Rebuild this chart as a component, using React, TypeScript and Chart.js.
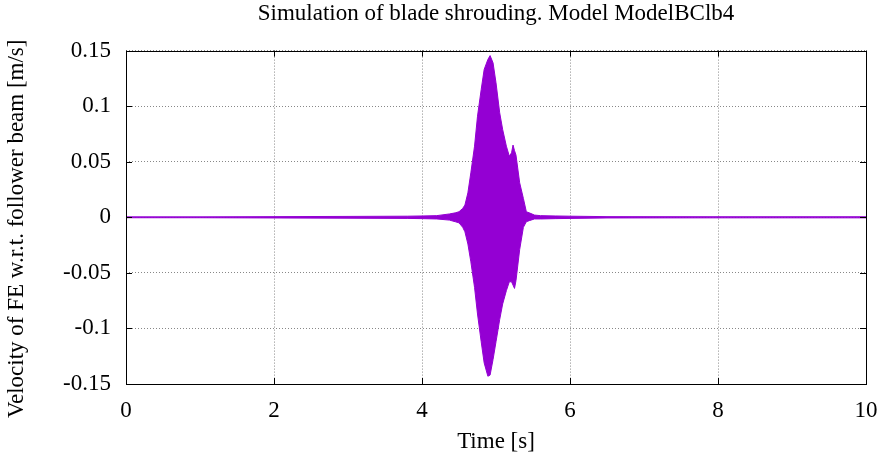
import React, { useEffect, useRef } from "react";
import { Chart, registerables } from "chart.js";

Chart.register(...registerables);

const chartTitle = "Simulation of blade shrouding. Model ModelBClb4";
const xTitle = "Time [s]";
const yTitle = "Velocity of FE w.r.t. follower beam [m/s]\u00A0\u00A0\u00A0\u00A0";

const xTickValues = [0, 2, 4, 6, 8, 10];
const xTickLabels = ["0", "2", "4", "6", "8", "10"];
const yTickValues = [-0.15, -0.1, -0.05, 0, 0.05, 0.1, 0.15];
const yTickLabels = ["-0.15", "-0.1", "-0.05", "0", "0.05", "0.1", "0.15"];

// time samples of the oscillation envelope [s]
const times = [
  0, 1.0, 2.0, 3.0, 3.8, 4.0, 4.2, 4.37, 4.45, 4.5, 4.55, 4.58, 4.62, 4.66,
  4.71, 4.75, 4.8, 4.84, 4.89, 4.92, 4.96, 5.0, 5.05, 5.09, 5.14, 5.18, 5.21,
  5.23, 5.25, 5.27, 5.32, 5.37, 5.41, 5.45, 5.52, 5.6, 5.8, 6.0, 6.5, 8, 10,
];
// upper envelope of velocity [m/s]
const upperEnvelope = [
  0.0004, 0.0004, 0.0006, 0.0008, 0.001, 0.0012, 0.0015, 0.003, 0.004, 0.005,
  0.008, 0.011, 0.022, 0.04, 0.064, 0.091, 0.115, 0.133, 0.142, 0.1455, 0.139,
  0.121, 0.094, 0.079, 0.064, 0.055, 0.058, 0.065, 0.06, 0.056, 0.031, 0.017,
  0.005, 0.004, 0.002, 0.0015, 0.0012, 0.001, 0.0006, 0.0005, 0.0005,
];
// lower envelope of velocity [m/s]
const lowerEnvelope = [
  -0.0004, -0.0004, -0.0006, -0.0008, -0.001, -0.0012, -0.0015, -0.0025,
  -0.004, -0.005, -0.009, -0.013, -0.024, -0.04, -0.063, -0.087, -0.112,
  -0.131, -0.143, -0.142, -0.128, -0.112, -0.092, -0.078, -0.066, -0.058,
  -0.058, -0.061, -0.064, -0.057, -0.029, -0.009, -0.004, -0.003, -0.0015,
  -0.0015, -0.0012, -0.001, -0.0006, -0.0005, -0.0005,
];

const FONT = "'Liberation Serif', 'Times New Roman', serif";
const SIZE = 23;
const COLOR = "#9400D3";

const framePlugin = {
  id: "frameTicks",
  afterDatasetsDraw(chart: any) {
    const { ctx, chartArea } = chart;
    const { left, right, top, bottom } = chartArea;
    const xs = chart.scales.x;
    const ys = chart.scales.y;
    ctx.save();
    ctx.strokeStyle = "#000";
    ctx.lineWidth = 1;
    ctx.beginPath();
    const len = 6;
    xTickValues.forEach((v) => {
      const px = Math.round(xs.getPixelForValue(v)) + 0.5;
      ctx.moveTo(px, bottom);
      ctx.lineTo(px, bottom - len);
      ctx.moveTo(px, top);
      ctx.lineTo(px, top + len);
    });
    yTickValues.forEach((v) => {
      const py = Math.round(ys.getPixelForValue(v)) + 0.5;
      ctx.moveTo(left, py);
      ctx.lineTo(left + len, py);
      ctx.moveTo(right, py);
      ctx.lineTo(right - len, py);
    });
    ctx.stroke();
    ctx.strokeRect(
      Math.round(left) + 0.5,
      Math.round(top) + 0.5,
      Math.round(right - left),
      Math.round(bottom - top)
    );
    ctx.restore();
  },
};

export default function App() {
  const ref = useRef<HTMLCanvasElement | null>(null);

  useEffect(() => {
    document.body.style.margin = "0";
    const canvas = ref.current;
    if (!canvas) return;
    const upper = times.map((t, i) => ({ x: t, y: upperEnvelope[i] }));
    const lower = times.map((t, i) => ({ x: t, y: lowerEnvelope[i] }));
    const chart = new Chart(canvas, {
      type: "line",
      data: {
        datasets: [
          {
            data: upper,
            borderColor: COLOR,
            backgroundColor: COLOR,
            borderWidth: 1,
            pointRadius: 0,
            fill: "+1",
            tension: 0,
          },
          {
            data: lower,
            borderColor: COLOR,
            backgroundColor: COLOR,
            borderWidth: 1,
            pointRadius: 0,
            fill: false,
            tension: 0,
          },
        ],
      },
      options: {
        animation: false,
        responsive: false,
        devicePixelRatio: 1,
        color: "#000",
        layout: { padding: { left: 0, right: 17, top: 0, bottom: 0 } },
        plugins: {
          legend: { display: false },
          tooltip: { enabled: false },
          title: {
            display: true,
            text: chartTitle,
            fullSize: false,
            color: "#000",
            font: { family: FONT, size: SIZE, weight: "normal" },
            padding: { top: 0, bottom: 23 },
          },
        },
        scales: {
          x: {
            type: "linear",
            min: 0,
            max: 10,
            afterBuildTicks: (s: any) => {
              s.ticks = xTickValues.map((v) => ({ value: v }));
            },
            afterFit: (s: any) => {
              s.height = 75;
              s.paddingLeft = 0;
              s.paddingRight = 0;
            },
            ticks: {
              color: "#000",
              font: { family: FONT, size: SIZE },
              padding: 13,
              maxRotation: 0,
              callback: (v: any) => xTickLabels[xTickValues.indexOf(Number(v))] ?? "",
            },
            grid: { color: "#888", lineWidth: 1, drawTicks: false },
            border: { display: false, dash: [1, 2] },
            title: {
              display: true,
              text: xTitle,
              color: "#000",
              font: { family: FONT, size: SIZE },
              padding: { top: 0, bottom: 3 },
            },
          },
          y: {
            type: "linear",
            min: -0.15,
            max: 0.15,
            afterBuildTicks: (s: any) => {
              s.ticks = yTickValues.map((v) => ({ value: v }));
            },
            afterFit: (s: any) => {
              s.width = 126;
              s.paddingTop = 0;
              s.paddingBottom = 0;
            },
            ticks: {
              color: "#000",
              font: { family: FONT, size: SIZE },
              padding: 15,
              callback: (v: any) => {
                const i = yTickValues.findIndex((t) => Math.abs(t - Number(v)) < 1e-9);
                return i >= 0 ? yTickLabels[i] : "";
              },
            },
            grid: { color: "#888", lineWidth: 1, drawTicks: false },
            border: { display: false, dash: [1, 2] },
            title: {
              display: true,
              text: yTitle,
              color: "#000",
              font: { family: FONT, size: SIZE },
              padding: { top: 3, bottom: 0 },
            },
          },
        },
      },
      plugins: [framePlugin],
    } as any);
    return () => chart.destroy();
  }, []);

  return (
    <div style={{ width: 883, height: 459 }}>
      <canvas ref={ref} width={883} height={459} style={{ display: "block" }} />
    </div>
  );
}
